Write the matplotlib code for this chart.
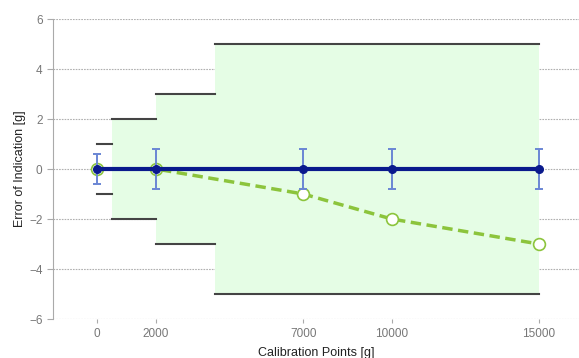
import matplotlib
matplotlib.use("Agg")
import matplotlib.pyplot as plt
import numpy as np

plt.rcParams['font.family'] = ['Liberation Sans', 'DejaVu Sans']

# Data
cal_points = [0, 2000, 7000, 10000, 15000]
error_values = [0, 0, 0, 0, 0]
error_unc = [0.6, 0.8, 0.8, 0.8, 0.8]
indication_err = [0, 0, -1, -2, -3]

# tolerance steps: (start, end, limit)
tol_starts = [0, 500, 2000, 4000]
tol_ends = [500, 2000, 4000, 15000]
tol_limits = [1, 2, 3, 5]

fig = plt.figure(figsize=(5.79, 3.58), dpi=100)
ax = fig.add_axes([53/579, 1 - 319/358, 1 - 53/579, (319 - 19)/358])

# green fill (from 500 onwards)
for s, e, l in zip(tol_starts[1:], tol_ends[1:], tol_limits[1:]):
    ax.fill_between([s, e], [-l, -l], [l, l], color='#e5fde5', lw=0, zorder=1)

for s, e, l in zip(tol_starts, tol_ends, tol_limits):
    ax.plot([s, e], [l, l], color='#444444', lw=1.5, zorder=3)
    ax.plot([s, e], [-l, -l], color='#444444', lw=1.5, zorder=3)

# green dashed
ax.plot(cal_points, indication_err, color='#8cc43c', lw=2.5, ls=(0, (3, 1.6)),
        marker='o', ms=8.5, mfc='white', mec='#8cc43c', mew=1.2, zorder=4)

# blue with error bars
ax.errorbar(cal_points, error_values, yerr=error_unc, color='#0a1a8c', lw=3,
            marker='o', ms=5.5, ecolor='#6a86d4', elinewidth=1.4, capsize=3,
            capthick=1.4, zorder=5)

ax.set_xlim(-1500, 16360)
ax.set_ylim(-6, 6)
ax.set_xticks(cal_points)
ax.set_xticklabels([str(v) for v in cal_points])
ax.set_yticks([-6, -4, -2, 0, 2, 4, 6])
ax.yaxis.grid(True, color='#b0b0b0', ls=(0, (1.5, 1)), lw=0.8, zorder=0)
ax.set_axisbelow(True)
for sp in ['top', 'right', 'bottom']:
    ax.spines[sp].set_visible(False)
ax.spines['left'].set_color('#aaaaaa')
ax.tick_params(axis='both', colors='#aaaaaa', labelcolor='#777777', labelsize=8.5, length=4)
ax.tick_params(axis='x', length=3)
ax.set_xlabel('Calibration Points [g]', fontsize=9, color='#222222', labelpad=5)
ax.set_ylabel('Error of Indication [g]', fontsize=9, color='#222222', labelpad=2)

fig.savefig('out.png', dpi=100)
